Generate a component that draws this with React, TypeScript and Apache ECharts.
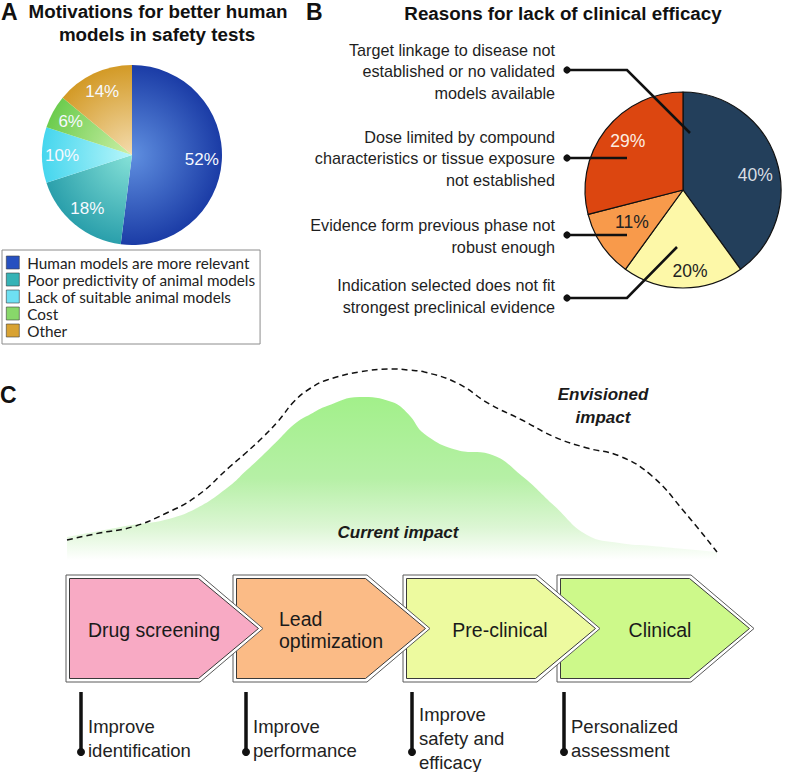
import React, { useEffect, useRef } from 'react';
import * as echarts from 'echarts';

// ---------- Panel A data ----------
const motivationNames = [
  'Human models are more relevant',
  'Poor predictivity of animal models',
  'Lack of suitable animal models',
  'Cost',
  'Other',
];
const motivationValues = [52, 18, 10, 6, 14];
const motivationRim = ['#1b3ca6', '#2a9fab', '#46d6ee', '#6ccc4e', '#d39a26'];
const motivationCore = ['#5f8fe0', '#86e2d8', '#b8f6fa', '#cdf0a8', '#f4dcae'];
const motivationLegend = ['#2650c0', '#36b3b6', '#6ee0f2', '#88d86a', '#d8a232'];

// ---------- Panel B data ----------
const reasonNames = [
  'Target linkage to disease not established or no validated models available',
  'Indication selected does not fit strongest preclinical evidence',
  'Evidence form previous phase not robust enough',
  'Dose limited by compound characteristics or tissue exposure not established',
];
const reasonValues = [40, 20, 11, 29];
const reasonColors = ['#233f5b', '#fdf8a8', '#f89a4b', '#dc4610'];
const reasonLabelColors = ['#d9dee4', '#222222', '#222222', '#fdeee2'];
const reasonTextLines = [
  ['Target linkage to disease not', 'established or no validated', 'models available'],
  ['Dose limited by compound', 'characteristics or tissue exposure', 'not established'],
  ['Evidence form previous phase not', 'robust enough'],
  ['Indication selected does not fit', 'strongest preclinical evidence'],
];

// ---------- Panel C data ----------
const impactX = [0, 5, 10, 15, 20, 25, 27.5, 30, 32.5, 35, 37.5, 40, 45, 50, 52.5, 55, 60, 65, 70, 75, 80, 85, 90, 95, 100];
const currentImpact = [11.5, 14.5, 17.5, 20, 26, 37, 44.5, 52, 60, 68, 73, 77, 81.5, 79, 73, 63, 55, 53, 42, 27, 12.5, 8.5, 7, 5.5, 4];
const envisionedImpact = [10, 13.5, 16.5, 23, 32, 46.5, 53.5, 61, 69.5, 79.5, 86, 90, 94, 95.5, 95, 94, 88.5, 78, 70, 61.5, 56, 52, 42, 24, 4];

const stageNames = ['Drug screening', 'Lead\noptimization', 'Pre-clinical', 'Clinical'];
const stageColors = ['#f8aac4', '#fbbb86', '#edfa9f', '#cdf98a'];
const stageGoals = [
  ['Improve', 'identification'],
  ['Improve', 'performance'],
  ['Improve', 'safety and', 'efficacy'],
  ['Personalized', 'assessment'],
];

// ---------- layout ----------
const FONT = '"Liberation Sans", Arial, Helvetica, sans-serif';
const pieA = { cx: 132, cy: 155, r: 90 };
const pieB = { cx: 683, cy: 190, r: 98 };
const pieBLabelShift = [[1, 8], [7, 6], [11, -10], [4, -3]];
const chevronLeft = [66, 233, 403, 557];
const chevronTop = 575;
const chevronBottom = 682;
const chevronWidth = 197;
const chevronTip = 63;
const stageTextX = [154, 279, 500, 660];
const stageTextAlign = ['center', 'left', 'center', 'center'];
const goalX = [81, 246, 412, 564];
const reasonTextY = [71, 158, 236, 296];
const leaderY = [70, 158, 235, 298];

function txt(x: number, y: number, t: string, o: any = {}) {
  return {
    type: 'text',
    x,
    y,
    z: 50,
    silent: true,
    style: {
      text: t,
      fill: o.fill || '#111',
      fontSize: o.fontSize || 14,
      fontWeight: o.fontWeight || 'normal',
      fontStyle: o.fontStyle || 'normal',
      fontFamily: o.fontFamily || FONT,
      align: o.align || 'left',
      verticalAlign: o.verticalAlign || 'middle',
      lineHeight: o.lineHeight,
    },
  };
}

function buildOption(): any {
  const g: any[] = [];

  // panel letters & titles
  g.push(txt(1, 12, 'A', { fontSize: 23, fontWeight: 'bold' }));
  g.push(txt(306, 12, 'B', { fontSize: 23, fontWeight: 'bold' }));
  g.push(txt(0, 395, 'C', { fontSize: 23, fontWeight: 'bold' }));
  g.push(txt(158, 11, 'Motivations for better human', { fontSize: 18.8, fontWeight: 'bold', align: 'center' }));
  g.push(txt(157, 34, 'models in safety tests', { fontSize: 18.8, fontWeight: 'bold', align: 'center' }));
  g.push(txt(563, 13, 'Reasons for lack of clinical efficacy', { fontSize: 18.8, fontWeight: 'bold', align: 'center' }));

  // panel B annotations
  reasonTextLines.forEach((lines, i) => {
    g.push(txt(555, reasonTextY[i], lines.join('\n'), { fontSize: 16.2, align: 'right', lineHeight: 21.5, fill: '#1e1e1e' }));
  });
  const leaders = [
    [[567, leaderY[0]], [627, leaderY[0]], [pieB.cx + 7, pieB.cy - 57]],
    [[567, leaderY[1]], [627, leaderY[1]]],
    [[567, leaderY[2]], [627, leaderY[2]]],
    [[567, leaderY[3]], [627, leaderY[3]], [pieB.cx - 6, pieB.cy + 57]],
  ];
  leaders.forEach((pts) => {
    g.push({ type: 'polyline', z: 60, silent: true, shape: { points: pts }, style: { stroke: '#111', lineWidth: 2.6, fill: null } });
    g.push({ type: 'circle', z: 61, silent: true, shape: { cx: pts[0][0], cy: pts[0][1], r: 3.6 }, style: { fill: '#111' } });
  });

  // panel C labels
  g.push(txt(398, 532, 'Current impact', { fontSize: 17, fontWeight: 'bold', fontStyle: 'italic', align: 'center', fill: '#1a1a1a' }));
  g.push(txt(603, 406, 'Envisioned\nimpact', { fontSize: 17, fontWeight: 'bold', fontStyle: 'italic', align: 'center', lineHeight: 23, fill: '#1a1a1a' }));

  // chevrons (drawn so earlier stages' tips sit on top)
  const mid = (chevronTop + chevronBottom) / 2;
  for (let i = stageNames.length - 1; i >= 0; i--) {
    const L = chevronLeft[i];
    const P = L + chevronWidth;
    const D = P - chevronTip;
    const zBase = 20 + (stageNames.length - 1 - i) * 2;
    g.push({
      type: 'polygon', z: zBase, silent: true,
      shape: { points: [[L, chevronTop], [D, chevronTop], [P, mid], [D, chevronBottom], [L, chevronBottom]] },
      style: { fill: '#ffffff', stroke: '#5a5a5a', lineWidth: 1 },
    });
    g.push({
      type: 'polygon', z: zBase + 1, silent: true,
      shape: { points: [[L + 3.5, chevronTop + 3.5], [D - 1.5, chevronTop + 3.5], [P - 4.5, mid], [D - 1.5, chevronBottom - 3.5], [L + 3.5, chevronBottom - 3.5]] },
      style: { fill: stageColors[i], stroke: '#3a3a3a', lineWidth: 1 },
    });
  }
  stageNames.forEach((name, i) => {
    g.push(txt(stageTextX[i], 630, name, { fontSize: 19.5, align: stageTextAlign[i], lineHeight: 22, fill: '#1a1a1a' }));
  });

  // goals under stages
  stageGoals.forEach((lines, i) => {
    const x = goalX[i];
    g.push({ type: 'line', z: 30, silent: true, shape: { x1: x, y1: 692, x2: x, y2: 752 }, style: { stroke: '#111', lineWidth: 3.5 } });
    g.push({ type: 'circle', z: 31, silent: true, shape: { cx: x, cy: 752, r: 4 }, style: { fill: '#111' } });
    g.push(txt(x + 7, 738, lines.join('\n'), { fontSize: 18.5, lineHeight: 24, fill: '#222' }));
  });

  const pieAData = motivationNames.map((n, i) => ({
    name: n,
    value: motivationValues[i],
    itemStyle: {
      color: {
        type: 'radial', x: pieA.cx, y: pieA.cy, r: pieA.r, global: true,
        colorStops: [
          { offset: 0, color: motivationCore[i] },
          { offset: 1, color: motivationRim[i] },
        ],
      },
    },
  }));

  return {
    animation: false,
    legend: {
      data: motivationNames.map((n, i) => ({
        name: n,
        itemStyle: { color: motivationLegend[i], borderColor: '#3d3d3d', borderWidth: 0.6 },
      })),
      orient: 'vertical',
      left: 2,
      top: 250,
      icon: 'rect',
      itemWidth: 13,
      itemHeight: 13,
      itemGap: 2,
      padding: [5, 4, 6, 4],
      borderColor: '#8c8c8c',
      borderWidth: 1,
      selectedMode: false,
      textStyle: { fontFamily: 'Lato', fontSize: 15.3, color: '#222', lineHeight: 14, padding: [0, 0, 0, 3] },
    },
    grid: { left: 67, right: 68, top: 360, bottom: 212 },
    xAxis: { type: 'value', min: 0, max: 100, show: false },
    yAxis: { type: 'value', min: 0, max: 100, show: false },
    graphic: { elements: g },
    series: [
      {
        type: 'pie',
        name: 'motivations',
        center: [pieA.cx, pieA.cy],
        radius: [0, pieA.r],
        startAngle: 90,
        clockwise: true,
        silent: true,
        data: pieAData,
        label: { show: false },
        labelLine: { show: false },
        z: 2,
      },
      {
        type: 'pie',
        name: 'motivationLabels',
        center: [pieA.cx, pieA.cy],
        radius: [44, pieA.r],
        startAngle: 90,
        clockwise: true,
        silent: true,
        data: motivationNames.map((n, i) => ({ name: n, value: motivationValues[i] })),
        itemStyle: { color: 'rgba(0,0,0,0)' },
        label: { show: true, position: 'inside', formatter: '{c}%', color: '#f6f9ff', fontSize: 17, fontFamily: FONT },
        labelLine: { show: false },
        z: 3,
      },
      {
        type: 'pie',
        name: 'reasons',
        center: [pieB.cx, pieB.cy],
        radius: [0, pieB.r],
        startAngle: 90,
        clockwise: true,
        silent: true,
        data: reasonNames.map((n, i) => ({ name: n, value: reasonValues[i], itemStyle: { color: reasonColors[i] } })),
        itemStyle: { borderColor: '#111', borderWidth: 1.2 },
        label: { show: false },
        labelLine: { show: false },
        z: 2,
      },
      {
        type: 'pie',
        name: 'reasonLabels',
        center: [pieB.cx, pieB.cy],
        radius: [46, pieB.r],
        startAngle: 90,
        clockwise: true,
        silent: true,
        data: reasonNames.map((n, i) => ({
          name: n,
          value: reasonValues[i],
          label: { color: reasonLabelColors[i] },
        })),
        itemStyle: { color: 'rgba(0,0,0,0)' },
        label: { show: true, position: 'inside', formatter: '{c}%', fontSize: 17.5, fontFamily: FONT },
        labelLine: { show: false },
        labelLayout: (p: any) => ({ dx: pieBLabelShift[p.dataIndex][0], dy: pieBLabelShift[p.dataIndex][1] }),
        z: 3,
      },
      {
        type: 'line',
        name: 'Current impact',
        data: impactX.map((x, i) => [x, currentImpact[i]]),
        smooth: 0.45,
        showSymbol: false,
        silent: true,
        lineStyle: { width: 0 },
        areaStyle: {
          color: {
            type: 'linear', x: 0, y: 0, x2: 0, y2: 1,
            colorStops: [
              { offset: 0, color: '#a2f08a' },
              { offset: 0.5, color: '#b6f0a6' },
              { offset: 0.8, color: '#dcf6d4' },
              { offset: 1, color: '#ffffff' },
            ],
          },
          opacity: 1,
        },
        z: 2,
      },
      {
        type: 'line',
        name: 'Envisioned impact',
        data: impactX.map((x, i) => [x, envisionedImpact[i]]),
        smooth: 0.45,
        showSymbol: false,
        silent: true,
        lineStyle: { color: '#111', width: 1.5, type: [6, 4] },
        z: 3,
      },
    ],
  };
}

export default function App() {
  const ref = useRef<HTMLDivElement>(null);
  useEffect(() => {
    document.body.style.margin = '0';
    const chart = echarts.init(ref.current as HTMLDivElement, null, { renderer: 'svg' });
    chart.setOption(buildOption());
    return () => chart.dispose();
  }, []);
  return <div ref={ref} style={{ width: 785, height: 772 }} />;
}
